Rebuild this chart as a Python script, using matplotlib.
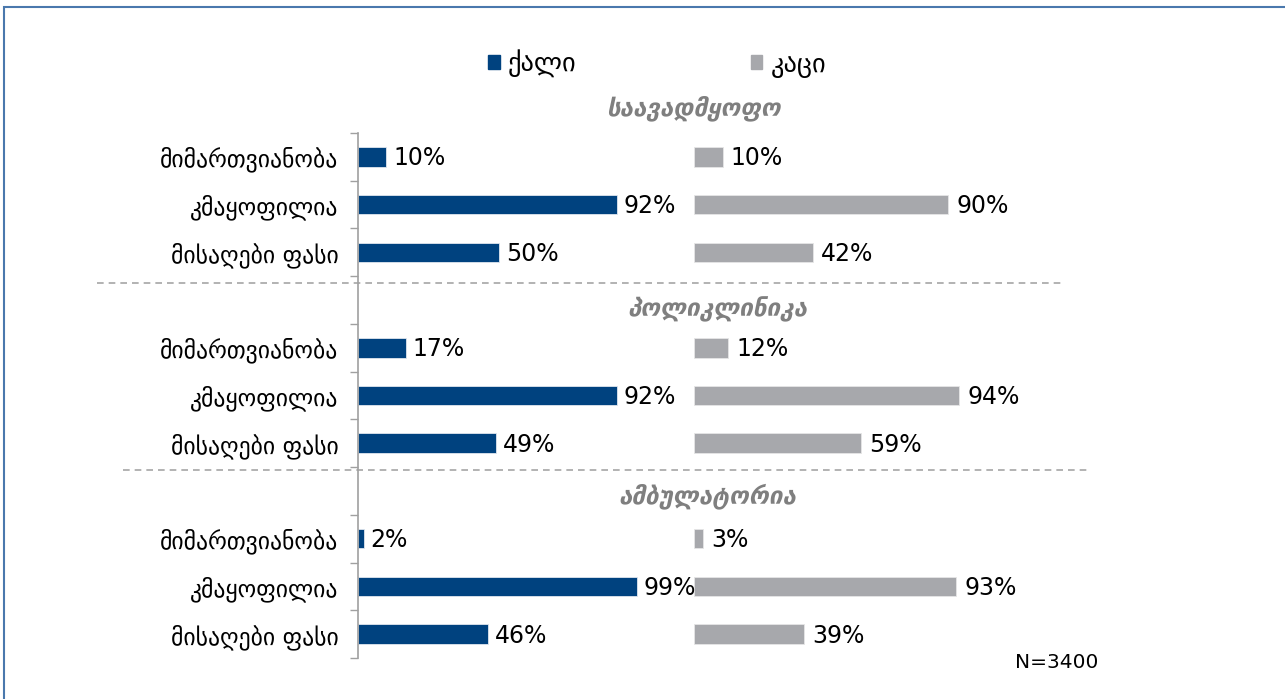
from matplotlib import pyplot as plt
from matplotlib.patches import Patch, Rectangle
import numpy as np

plt.rcParams['font.family'] = ['DejaVu Sans']

groups = ['საავადმყოფო', 'პოლიკლინიკა', 'ამბულატორია']
cats = ['მიმართვიანობა', 'კმაყოფილია', 'მისაღები ფასი']
female = [[10, 92, 50], [17, 92, 49], [2, 99, 46]]
male = [[10, 90, 42], [12, 94, 59], [3, 93, 39]]
series = ['ქალი', 'კაცი']
note = 'N=3400'

blue = '#00427f'
grey = '#a7a8ac'
shift = 119.5  # male bars start further right on the same axis

W, H = 1285, 699
fig = plt.figure(figsize=(W / 100, H / 100), dpi=100)

# frame round the chart (right and bottom edges fall outside the image)
fig.patches.append(Rectangle((4 / W, -0.1), 1.2, 1.1 - 7 / H, transform=fig.transFigure,
                             fill=False, edgecolor='#4a78ad', linewidth=1.5))

ax = fig.add_axes([358 / W, 1 - 658 / H, 732 / W, 525 / H])

# rows: 3 per group with an empty row between groups
rows = []
labels = []
for g in range(len(groups)):
    for c in range(len(cats)):
        rows.append(g * 4 + c)
        labels.append(cats[c])
rows = np.array(rows)
fvals = np.array(female).ravel()
mvals = np.array(male).ravel()

ax.barh(rows, fvals, height=0.41, color=blue, edgecolor='#dfe6ef', linewidth=0.6)
ax.barh(rows, mvals, left=shift, height=0.41, color=grey, edgecolor='#e6e6e6', linewidth=0.6)

for y, v in zip(rows, fvals):
    ax.annotate('%d%%' % v, (v, y), xytext=(5, -1), textcoords='offset points',
                va='center', ha='left', fontsize=17)
for y, v in zip(rows, mvals):
    ax.annotate('%d%%' % v, (shift + v, y), xytext=(6, -1), textcoords='offset points',
                va='center', ha='left', fontsize=17)

ax.set_xlim(0, 260)
ax.set_ylim(10.5, -0.5)
ax.set_yticks(rows)
ax.set_yticklabels(labels, fontsize=17)
ax.tick_params(axis='y', which='major', length=0, pad=14)
ax.set_yticks(np.arange(-0.5, 11, 1), minor=True)
ax.tick_params(axis='y', which='minor', length=6, color='#a0a0a0', width=1)
ax.set_xticks([])
for s in ['top', 'right', 'bottom']:
    ax.spines[s].set_visible(False)
ax.spines['left'].set_color('#a0a0a0')
ax.spines['left'].set_linewidth(1.2)

# group titles
for g, x, y in zip(groups, [119, 127.5, 124], [-1.02, 3.2, 7.1]):
    ax.text(x, y, g, ha='center', va='center', fontsize=17.5, fontweight='bold',
            fontstyle='italic', color='#7f7f7f', clip_on=False)

# dashed separators
for y, x0, x1 in [(2.64, 97, 1062), (6.56, 123, 1088)]:
    ax.plot([(x0 - 358) / 2.815, (x1 - 358) / 2.815], [y, y], ls=(0, (4, 3)),
            color='#a6a6a6', lw=1.2, clip_on=False)

handles = [Patch(color=blue), Patch(color=grey)]
fig.legend(handles, series, loc='center', bbox_to_anchor=(657 / W, 1 - 64 / H),
           ncol=2, frameon=False, fontsize=19, handlelength=0.45, handleheight=0.45,
           handletextpad=0.3, columnspacing=6.6)

fig.text(1015 / W, 1 - 662 / H, note, ha='left', va='center', fontsize=14.5)

fig.savefig('out.png', dpi=100)
